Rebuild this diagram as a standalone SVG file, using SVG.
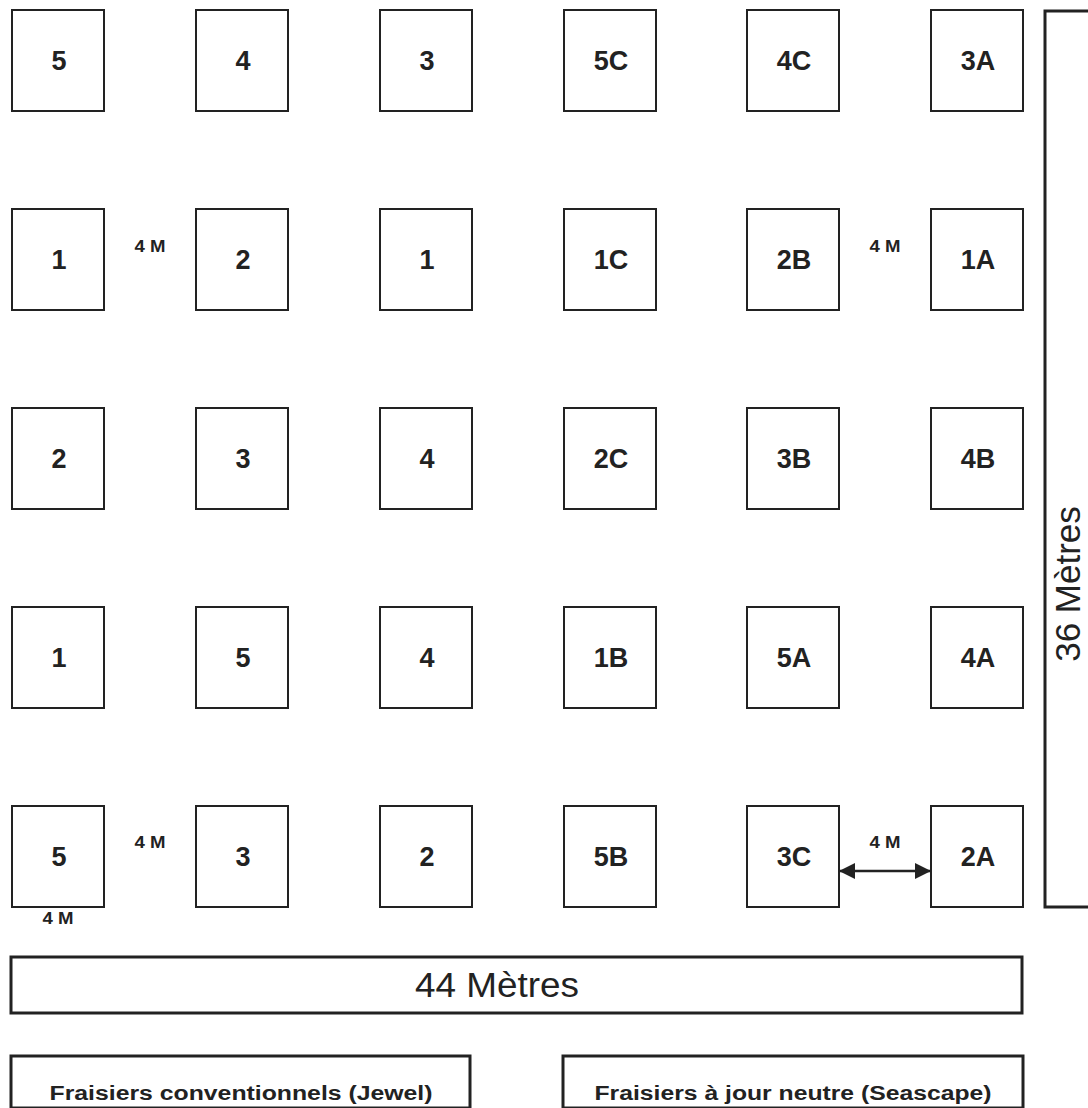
<svg xmlns="http://www.w3.org/2000/svg" width="1088" height="1108" viewBox="0 0 1088 1108">
<style>
.plot{fill:#fff;stroke:#222;stroke-width:2}
.bar{fill:#fff;stroke:#222;stroke-width:3}
.lbl{font-family:"Liberation Sans",Arial,sans-serif;font-weight:bold;font-size:27px;fill:#222;text-anchor:middle}
.dist{font-family:"Liberation Sans",Arial,sans-serif;font-weight:bold;font-size:16px;fill:#222;text-anchor:middle}
.big{font-family:"Liberation Sans",Arial,sans-serif;font-size:35px;fill:#222;text-anchor:middle}
.leg{font-family:"Liberation Sans",Arial,sans-serif;font-weight:bold;font-size:20px;fill:#222;text-anchor:middle}
</style>
<defs>
<marker id="ah" viewBox="0 0 16 16" refX="15" refY="8" markerWidth="16" markerHeight="16" markerUnits="userSpaceOnUse" orient="auto-start-reverse">
<path d="M0,0 L16,8 L0,16 Z" fill="#222"/>
</marker>
</defs>
<rect width="1088" height="1108" fill="#fff"/>
<g id="r1">
<g id="p-r1c1"><rect class="plot" x="12" y="10" width="92" height="101"/><text class="lbl" x="59" y="70">5</text></g>
<g id="p-r1c2"><rect class="plot" x="196" y="10" width="92" height="101"/><text class="lbl" x="243" y="70">4</text></g>
<g id="p-r1c3"><rect class="plot" x="380" y="10" width="92" height="101"/><text class="lbl" x="427" y="70">3</text></g>
<g id="p-r1c4"><rect class="plot" x="564" y="10" width="92" height="101"/><text class="lbl" x="611" y="70">5C</text></g>
<g id="p-r1c5"><rect class="plot" x="747" y="10" width="92" height="101"/><text class="lbl" x="794" y="70">4C</text></g>
<g id="p-r1c6"><rect class="plot" x="931" y="10" width="92" height="101"/><text class="lbl" x="978" y="70">3A</text></g>
</g>
<g id="r2">
<g id="p-r2c1"><rect class="plot" x="12" y="209" width="92" height="101"/><text class="lbl" x="59" y="269">1</text></g>
<g id="p-r2c2"><rect class="plot" x="196" y="209" width="92" height="101"/><text class="lbl" x="243" y="269">2</text></g>
<g id="p-r2c3"><rect class="plot" x="380" y="209" width="92" height="101"/><text class="lbl" x="427" y="269">1</text></g>
<g id="p-r2c4"><rect class="plot" x="564" y="209" width="92" height="101"/><text class="lbl" x="611" y="269">1C</text></g>
<g id="p-r2c5"><rect class="plot" x="747" y="209" width="92" height="101"/><text class="lbl" x="794" y="269">2B</text></g>
<g id="p-r2c6"><rect class="plot" x="931" y="209" width="92" height="101"/><text class="lbl" x="978" y="269">1A</text></g>
</g>
<g id="r3">
<g id="p-r3c1"><rect class="plot" x="12" y="408" width="92" height="101"/><text class="lbl" x="59" y="468">2</text></g>
<g id="p-r3c2"><rect class="plot" x="196" y="408" width="92" height="101"/><text class="lbl" x="243" y="468">3</text></g>
<g id="p-r3c3"><rect class="plot" x="380" y="408" width="92" height="101"/><text class="lbl" x="427" y="468">4</text></g>
<g id="p-r3c4"><rect class="plot" x="564" y="408" width="92" height="101"/><text class="lbl" x="611" y="468">2C</text></g>
<g id="p-r3c5"><rect class="plot" x="747" y="408" width="92" height="101"/><text class="lbl" x="794" y="468">3B</text></g>
<g id="p-r3c6"><rect class="plot" x="931" y="408" width="92" height="101"/><text class="lbl" x="978" y="468">4B</text></g>
</g>
<g id="r4">
<g id="p-r4c1"><rect class="plot" x="12" y="607" width="92" height="101"/><text class="lbl" x="59" y="667">1</text></g>
<g id="p-r4c2"><rect class="plot" x="196" y="607" width="92" height="101"/><text class="lbl" x="243" y="667">5</text></g>
<g id="p-r4c3"><rect class="plot" x="380" y="607" width="92" height="101"/><text class="lbl" x="427" y="667">4</text></g>
<g id="p-r4c4"><rect class="plot" x="564" y="607" width="92" height="101"/><text class="lbl" x="611" y="667">1B</text></g>
<g id="p-r4c5"><rect class="plot" x="747" y="607" width="92" height="101"/><text class="lbl" x="794" y="667">5A</text></g>
<g id="p-r4c6"><rect class="plot" x="931" y="607" width="92" height="101"/><text class="lbl" x="978" y="667">4A</text></g>
</g>
<g id="r5">
<g id="p-r5c1"><rect class="plot" x="12" y="806" width="92" height="101"/><text class="lbl" x="59" y="866">5</text></g>
<g id="p-r5c2"><rect class="plot" x="196" y="806" width="92" height="101"/><text class="lbl" x="243" y="866">3</text></g>
<g id="p-r5c3"><rect class="plot" x="380" y="806" width="92" height="101"/><text class="lbl" x="427" y="866">2</text></g>
<g id="p-r5c4"><rect class="plot" x="564" y="806" width="92" height="101"/><text class="lbl" x="611" y="866">5B</text></g>
<g id="p-r5c5"><rect class="plot" x="747" y="806" width="92" height="101"/><text class="lbl" x="794" y="866">3C</text></g>
<g id="p-r5c6"><rect class="plot" x="931" y="806" width="92" height="101"/><text class="lbl" x="978" y="866">2A</text></g>
</g>
<g id="distances">
<text class="dist" x="150" y="252" textLength="31" lengthAdjust="spacingAndGlyphs">4 M</text>
<text class="dist" x="885" y="252" textLength="31" lengthAdjust="spacingAndGlyphs">4 M</text>
<text class="dist" x="150" y="848" textLength="31" lengthAdjust="spacingAndGlyphs">4 M</text>
<text class="dist" x="885" y="848" textLength="31" lengthAdjust="spacingAndGlyphs">4 M</text>
<text class="dist" x="58" y="924" textLength="31" lengthAdjust="spacingAndGlyphs">4 M</text>
</g>
<g id="connectors">
<line x1="840" y1="871" x2="930" y2="871" stroke="#222" stroke-width="2.5" marker-start="url(#ah)" marker-end="url(#ah)"/>
</g>
<g id="width-bar">
<rect class="bar" x="11" y="957" width="1011" height="56"/>
<text class="big" x="497" y="997" textLength="164" lengthAdjust="spacingAndGlyphs">44 Mètres</text>
</g>
<g id="height-bar">
<rect class="bar" x="1045" y="11" width="60" height="896"/>
<text class="big" transform="translate(1080,584) rotate(-90)">36 Mètres</text>
</g>
<g id="legend-jewel">
<rect class="bar" x="11" y="1056" width="459" height="52"/>
<text class="leg" x="241" y="1100" textLength="383" lengthAdjust="spacingAndGlyphs">Fraisiers conventionnels (Jewel)</text>
</g>
<g id="legend-seascape">
<rect class="bar" x="563" y="1056" width="460" height="52"/>
<text class="leg" x="793" y="1100" textLength="397" lengthAdjust="spacingAndGlyphs">Fraisiers à jour neutre (Seascape)</text>
</g>
</svg>
